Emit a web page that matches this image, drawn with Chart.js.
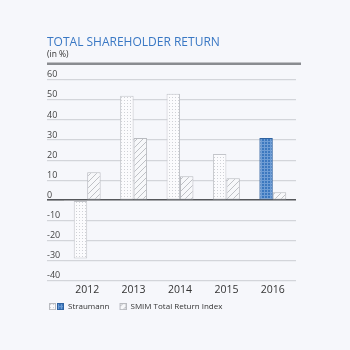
<!DOCTYPE html>
<html>
<head>
<meta charset="utf-8">
<script src="https://cdn.jsdelivr.net/npm/chart.js@4/dist/chart.umd.min.js"></script>
<style>
  html, body { margin: 0; padding: 0; background: #f6f7fb; }
  #wrap { width: 350px; height: 350px; }
</style>
</head>
<body>
<div id="wrap"><canvas id="c" width="350" height="350"></canvas></div>
<script>
const years = ['2012', '2013', '2014', '2015', '2016'];
const straumann = [-29, 52, 53, 23, 31];
const smim = [14, 31, 12, 11, 4];
const yTicks = [60, 50, 40, 30, 20, 10, 0, -10, -20, -30, -40];
const highlightIndex = 4;

function tile(w, h, draw) {
  const c = document.createElement('canvas');
  c.width = w; c.height = h;
  draw(c.getContext('2d'));
  return c;
}
const ctx0 = document.createElement('canvas').getContext('2d');
const dotTile = tile(3, 3, g => {
  g.fillStyle = '#fbfbfd'; g.fillRect(0, 0, 3, 3);
  g.fillStyle = '#cfd1d6'; g.fillRect(1, 1, 1, 1);
});
const blueTile = tile(3, 3, g => {
  g.fillStyle = '#3c78bf'; g.fillRect(0, 0, 3, 3);
  g.fillStyle = '#6f9dd4'; g.fillRect(0, 0, 3, 1); g.fillRect(0, 0, 1, 3);
});
const hatchTile = tile(6, 6, g => {
  g.fillStyle = '#f7f8fa'; g.fillRect(0, 0, 6, 6);
  g.strokeStyle = '#bfc1c6'; g.lineWidth = 1;
  g.beginPath();
  g.moveTo(-1, 7); g.lineTo(7, -1);
  g.moveTo(-1, 1); g.lineTo(1, -1);
  g.moveTo(5, 7); g.lineTo(7, 5);
  g.stroke();
});
const dotPat = ctx0.createPattern(dotTile, 'repeat');
const bluePat = ctx0.createPattern(blueTile, 'repeat');
const hatchPat = ctx0.createPattern(hatchTile, 'repeat');

function legendIcon(kind) {
  return tile(15, 7, g => {
    function sq(x, fill, border) {
      g.fillStyle = fill; g.fillRect(x, 0, 7, 7);
      g.strokeStyle = border; g.lineWidth = 1; g.strokeRect(x + 0.5, 0.5, 6, 6);
    }
    if (kind === 's') {
      sq(0, g.createPattern(dotTile, 'repeat'), '#b9bbc0');
      sq(8, g.createPattern(blueTile, 'repeat'), '#2f62a0');
    } else {
      sq(8, g.createPattern(hatchTile, 'repeat'), '#b9bbc0');
    }
  });
}
const iconS = legendIcon('s');
const iconM = legendIcon('m');

const topRule = {
  id: 'topRule',
  afterDraw(chart) {
    const { ctx, chartArea, scales } = chart;
    const y = chartArea.top - 16;
    ctx.save();
    ctx.strokeStyle = '#8a8c90';
    ctx.lineWidth = 2.5;
    ctx.beginPath();
    ctx.moveTo(scales.y.left, y);
    ctx.lineTo(chartArea.right + 5, y);
    ctx.stroke();
    ctx.restore();
  }
};

new Chart(document.getElementById('c'), {
  type: 'bar',
  data: {
    labels: years,
    datasets: [
      {
        label: 'Straumann',
        data: straumann,
        backgroundColor: straumann.map((v, i) => i === highlightIndex ? bluePat : dotPat),
        borderColor: straumann.map((v, i) => i === highlightIndex ? '#2f62a0' : '#c3c5ca'),
        borderWidth: 1,
        borderSkipped: false
      },
      {
        label: 'SMIM Total Return Index',
        data: smim,
        backgroundColor: hatchPat,
        borderColor: '#b9bbc0',
        borderWidth: 1,
        borderSkipped: false
      }
    ]
  },
  options: {
    responsive: false,
    animation: false,
    devicePixelRatio: 1,
    layout: { padding: { top: 37, left: 47, right: 54, bottom: 29.4 } },
    datasets: { bar: { barPercentage: 1, categoryPercentage: 0.58 } },
    plugins: {
      title: {
        display: true,
        text: 'TOTAL SHAREHOLDER RETURN',
        align: 'start',
        color: '#3a78c4',
        font: { family: 'Open Sans', size: 12, weight: '500', lineHeight: 1 },
        padding: { top: 0, bottom: 0 }
      },
      subtitle: {
        display: true,
        text: '(in %)',
        align: 'start',
        color: '#333',
        font: { family: 'Open Sans', size: 8.5, lineHeight: 1.2 },
        padding: { top: 0, bottom: 20.6 }
      },
      legend: {
        display: true,
        position: 'bottom',
        align: 'start',
        labels: {
          usePointStyle: true,
          pointStyleWidth: 15,
          boxHeight: 7,
          padding: 2,
          color: '#333',
          font: { family: 'Open Sans', size: 8 },
          generateLabels() {
            return [
              { text: 'Straumann', pointStyle: iconS, fillStyle: 'transparent', strokeStyle: 'transparent', lineWidth: 0, datasetIndex: 0, fontColor: '#333' },
              { text: 'SMIM Total Return Index', pointStyle: iconM, fillStyle: 'transparent', strokeStyle: 'transparent', lineWidth: 0, datasetIndex: 1, fontColor: '#333' }
            ];
          }
        }
      },
      tooltip: { enabled: false }
    },
    scales: {
      x: {
        grid: { display: false, drawTicks: false },
        border: { display: false },
        afterFit(scale) { scale.height = 20; },
        ticks: { color: '#333', font: { family: 'Open Sans', size: 10.5 }, padding: 3 }
      },
      y: {
        min: -40,
        max: 60,
        afterBuildTicks(scale) { scale.ticks = yTicks.map(v => ({ value: v })); },
        afterFit(scale) { scale.width = 17; },
        border: { display: false },
        grid: {
          drawTicks: true,
          tickLength: 17,
          color: c => c.tick && c.tick.value === 0 ? '#55575b' : '#d3d5da',
          lineWidth: c => c.tick && c.tick.value === 0 ? 1.6 : 1.2
        },
        ticks: {
          crossAlign: 'far',
          padding: 0,
          labelOffset: -5,
          color: '#444',
          font: { family: 'Open Sans', size: 9 }
        }
      }
    }
  },
  plugins: [topRule]
});
</script>
</body>
</html>
